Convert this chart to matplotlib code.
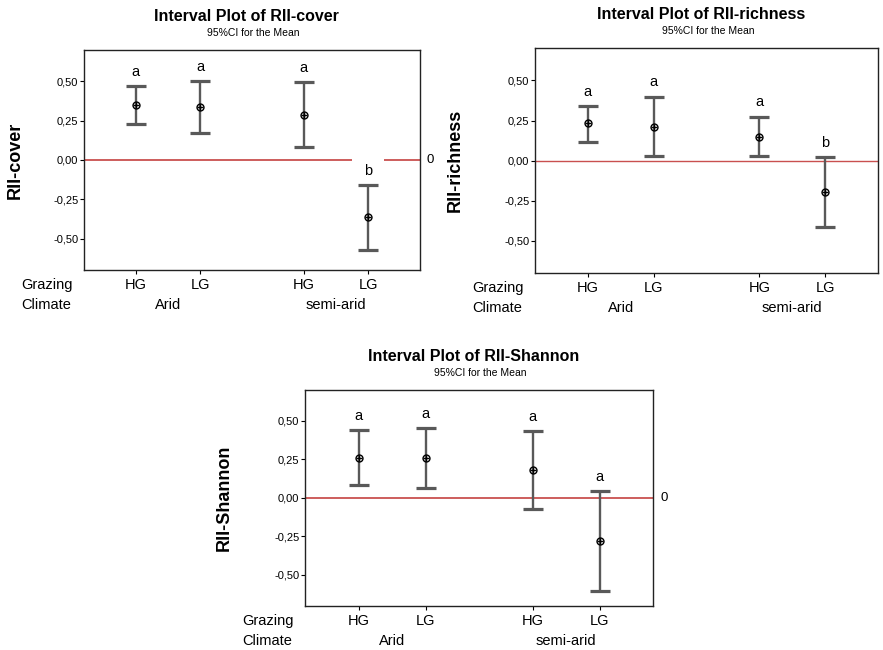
import matplotlib
matplotlib.use("Agg")
import matplotlib.pyplot as plt
from matplotlib.ticker import FuncFormatter

plt.rcParams['font.family'] = ['Liberation Sans', 'DejaVu Sans']

# groups (same in every panel)
grazing = ["HG", "LG", "HG", "LG"]
climate = ["Arid", "semi-arid"]
positions = [1, 2, 3.6, 4.6]

# RII-cover: mean, lower and upper 95% CI, letters
cover_mean = [0.348, 0.335, 0.289, -0.365]
cover_low = [0.226, 0.173, 0.080, -0.572]
cover_high = [0.473, 0.500, 0.498, -0.160]
cover_letters = ["a", "a", "a", "b"]

# RII-richness
rich_mean = [0.232, 0.211, 0.149, -0.193]
rich_low = [0.116, 0.029, 0.031, -0.414]
rich_high = [0.340, 0.398, 0.273, 0.021]
rich_letters = ["a", "a", "a", "b"]

# RII-Shannon
shan_mean = [0.259, 0.259, 0.181, -0.277]
shan_low = [0.082, 0.062, -0.071, -0.605]
shan_high = [0.440, 0.454, 0.432, 0.047]
shan_letters = ["a", "a", "a", "a"]

yticks = [-0.5, -0.25, 0.0, 0.25, 0.5]

GRAY = "#595959"
RED = "#c9504f"


def comma_fmt(v, _):
    return f"{v:.2f}".replace(".", ",")


def interval_panel(ax, name, mean, low, high, letters, ylab_x,
                   gap_at=None, zero_label=True, red_lw=1.3):
    ax.set_xlim(0.2, 5.4)
    ax.set_ylim(-0.70, 0.70)

    # zero reference line
    if gap_at is None:
        ax.axhline(0, color=RED, lw=red_lw, zorder=1)
    else:
        p = positions[gap_at]
        ax.hlines([0, 0], [0.2, p + 0.25], [p - 0.25, 5.4], color=RED, lw=red_lw, zorder=1)
    if zero_label:
        ax.annotate("0", xy=(1, 0), xycoords=("axes fraction", "data"),
                    xytext=(5, 0), textcoords="offset points",
                    ha="left", va="center", fontsize=9.5, annotation_clip=False)

    err = [[m - l for m, l in zip(mean, low)], [h - m for m, h in zip(mean, high)]]
    ax.errorbar(positions, mean, yerr=err, fmt="none", ecolor=GRAY,
                elinewidth=1.7, capsize=7.5, capthick=2.3, zorder=2)
    ax.plot(positions, mean, "o", ms=5, mfc="none", mec="black", mew=1, zorder=3)
    ax.plot(positions, mean, "+", ms=5, color="black", mew=1, zorder=3)

    for x, h, t in zip(positions, high, letters):
        ax.text(x, h + 0.09, t, ha="center", va="center", fontsize=10.5)

    ax.set_yticks(yticks)
    ax.yaxis.set_major_formatter(FuncFormatter(comma_fmt))
    ax.tick_params(axis="y", labelsize=8, length=3, width=0.8, pad=1)
    ax.set_xticks(positions)
    ax.set_xticklabels(grazing, fontsize=10.5)
    ax.tick_params(axis="x", length=3, width=0.8, pad=3)
    for s in ax.spines.values():
        s.set_linewidth(1.0)
        s.set_color("#222222")

    ax.annotate("Grazing", xy=(0, 0), xycoords="axes fraction",
                xytext=(-45, -11), textcoords="offset points",
                ha="left", va="center", fontsize=10.5)
    ax.annotate("Climate", xy=(0, 0), xycoords="axes fraction",
                xytext=(-45, -25.5), textcoords="offset points",
                ha="left", va="center", fontsize=10.5)
    for i, c in enumerate(climate):
        xc = (positions[2 * i] + positions[2 * i + 1]) / 2
        ax.annotate(c, xy=(xc, 0), xycoords=("data", "axes fraction"),
                    xytext=(0, -25.5), textcoords="offset points",
                    ha="center", va="center", fontsize=10.5)

    ax.set_ylabel(name, fontsize=13, fontweight="bold")
    ax.yaxis.set_label_coords(ylab_x, 0.5)

    ax.annotate("Interval Plot of " + name, xy=(0.5, 1), xycoords="axes fraction",
                xytext=(-4, 24), textcoords="offset points",
                ha="center", va="center", fontsize=11.5, fontweight="bold")
    ax.annotate("95%CI for the Mean", xy=(0.5, 1), xycoords="axes fraction",
                xytext=(1, 12.5), textcoords="offset points",
                ha="center", va="center", fontsize=7.5)


fig = plt.figure(figsize=(8.83, 6.5), dpi=100)

ax1 = fig.add_axes([0.0951, 0.5846, 0.3805, 0.3385])
interval_panel(ax1, "RII-cover", cover_mean, cover_low, cover_high, cover_letters,
               -0.179, gap_at=3)

ax2 = fig.add_axes([0.6059, 0.5800, 0.3884, 0.3457])
interval_panel(ax2, "RII-richness", rich_mean, rich_low, rich_high, rich_letters,
               -0.207, zero_label=False, red_lw=1.0)

ax3 = fig.add_axes([0.3454, 0.0682, 0.3945, 0.3318])
interval_panel(ax3, "RII-Shannon", shan_mean, shan_low, shan_high, shan_letters,
               -0.207)

fig.savefig("out.png", dpi=100)
